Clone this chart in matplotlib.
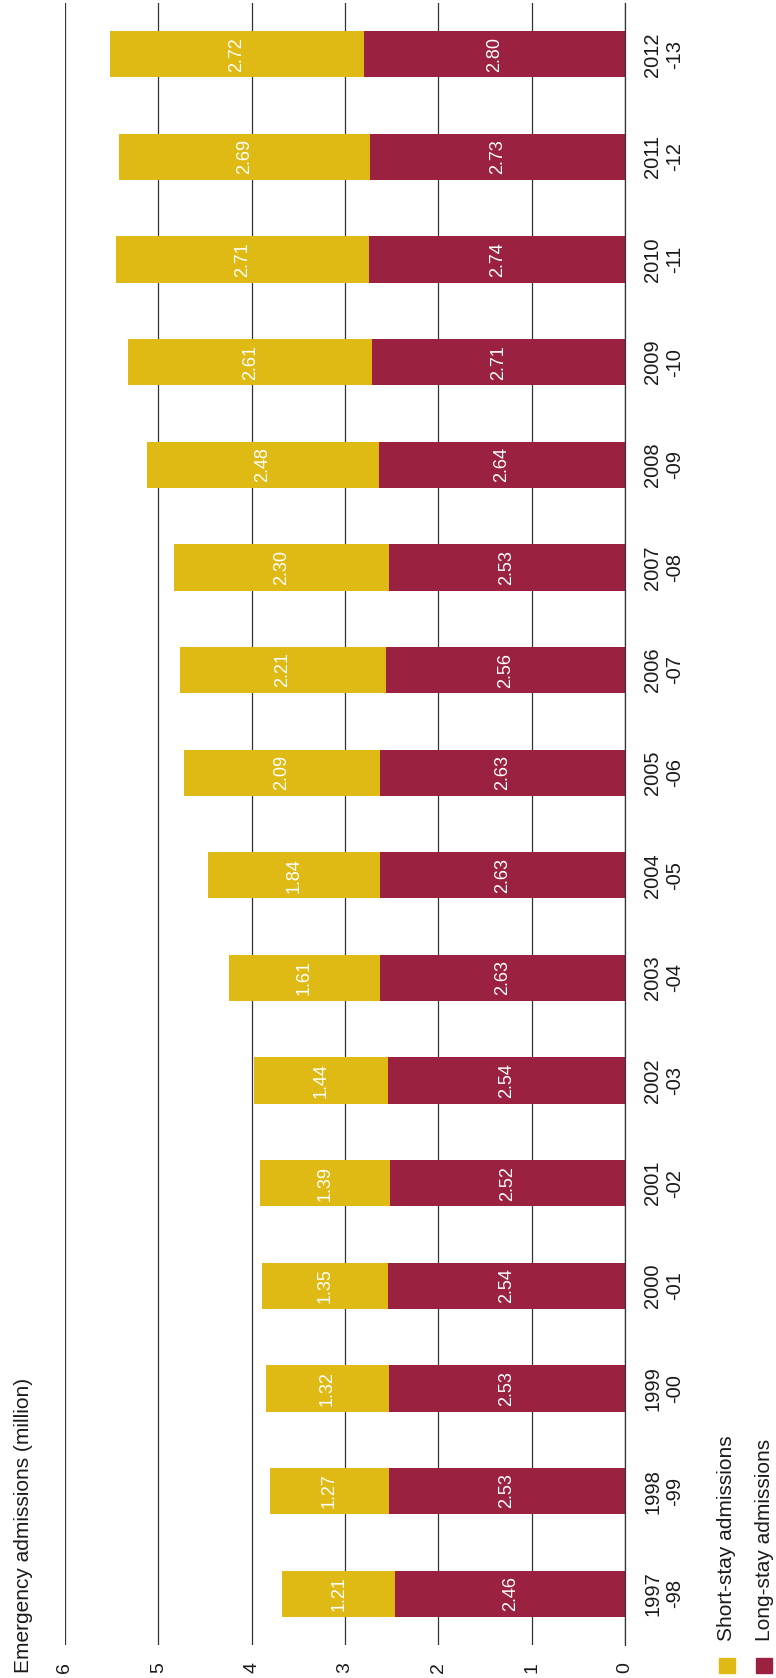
"""
Emergency admissions, short-stay vs long-stay, stacked bars.
The whole chart is laid out turned 90 degrees (values run right -> left).
"""
import matplotlib
matplotlib.use("Agg")
import matplotlib.pyplot as plt
from matplotlib.patches import Rectangle

plt.rcParams["font.family"] = ["Liberation Sans", "DejaVu Sans"]

GOLD = "#dfb914"
CRIMSON = "#9b2140"
GRID = "#333333"
TXT = "#1a1a1a"

years = ["1997\n-98", "1998\n-99", "1999\n-00", "2000\n-01", "2001\n-02",
         "2002\n-03", "2003\n-04", "2004\n-05", "2005\n-06", "2006\n-07",
         "2007\n-08", "2008\n-09", "2009\n-10", "2010\n-11", "2011\n-12",
         "2012\n-13"]
long_stay = [2.46, 2.53, 2.53, 2.54, 2.52, 2.54, 2.63, 2.63, 2.63, 2.56,
             2.53, 2.64, 2.71, 2.74, 2.73, 2.80]
short_stay = [1.21, 1.27, 1.32, 1.35, 1.39, 1.44, 1.61, 1.84, 2.09, 2.21,
              2.30, 2.48, 2.61, 2.71, 2.69, 2.72]
value_ticks = [0, 1, 2, 3, 4, 5, 6]

W, H = 776, 1678
fig = plt.figure(figsize=(W / 100, H / 100), dpi=100)
ax = fig.add_axes([65 / W, 1 - 1645 / H, (625 - 65) / W, (1645 - 3) / H])

pos = list(range(len(years)))
bw = 0.45
ax.barh(pos, long_stay, height=bw, color=CRIMSON, zorder=3)
ax.barh(pos, short_stay, height=bw, left=long_stay, color=GOLD, zorder=3)

for i, (l, s) in enumerate(zip(long_stay, short_stay)):
    ax.text(l / 2, i, f"{l:.2f}", rotation=90, ha="center", va="center",
            color="white", fontsize=13, zorder=4)
    ax.text(l + s / 2, i, f"{s:.2f}", rotation=90, ha="center", va="center",
            color="white", fontsize=13, zorder=4)

ax.set_xlim(6, 0)
ax.set_ylim(-0.5, len(years) - 0.5)
ax.set_xticks(value_ticks)
ax.set_xticklabels([str(v) for v in value_ticks], rotation=90, fontsize=14,
                   color=TXT)
ax.tick_params(axis="x", length=0, pad=12)
ax.yaxis.tick_right()
ax.set_yticks(pos)
ax.set_yticklabels(years, rotation=90, fontsize=14.5, color=TXT,
                   va="center", ha="left", multialignment="center")
ax.tick_params(axis="y", length=0, pad=13)

for sp in ax.spines.values():
    sp.set_visible(False)
ax.grid(axis="x", color=GRID, linewidth=0.9, zorder=0)
# zero line sits on the axes edge, keep it from being clipped
ax.axvline(0, color=GRID, linewidth=0.9, zorder=5, clip_on=False)

# title (turned with the chart)
fig.text(24 / W, 1 - 1673 / H, "Emergency admissions (million)", rotation=90,
         ha="center", va="bottom", fontsize=15, color=TXT)

# legend
for xc, col, lab in [(727, GOLD, "Short-stay admissions"),
                     (764, CRIMSON, "Long-stay admissions")]:
    fig.patches.append(Rectangle(((xc - 8) / W, 1 - 1673 / H), 16 / W, 15 / H,
                                 transform=fig.transFigure, color=col))
    fig.text(xc / W, 1 - 1641 / H, lab, rotation=90, ha="center", va="bottom",
             fontsize=15, color=TXT)

fig.savefig("out.png", dpi=100)
